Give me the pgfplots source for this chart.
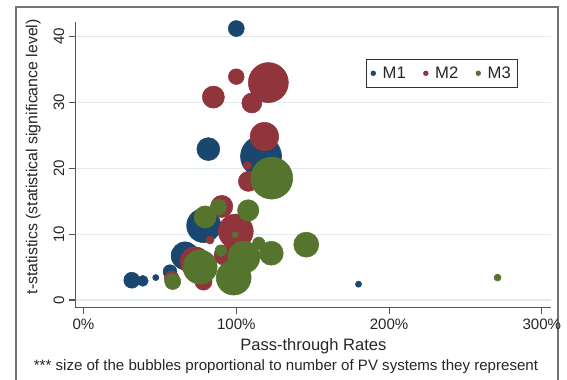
\documentclass[border=0pt]{standalone}
\usepackage{pgfplots}
\pgfplotsset{compat=1.18}
\usepackage{pgfplotstable}
\usepackage{fontspec}
\setmainfont{Liberation Sans}
\definecolor{m1}{RGB}{26,71,111}
\definecolor{m2}{RGB}{144,53,59}
\definecolor{m3}{RGB}{85,117,47}
\definecolor{gridc}{RGB}{226,236,239}
\definecolor{axc}{RGB}{85,85,85}
\pgfplotstableread{
x y r
100 41.2 6.0
81.7 22.9 8.6
116.2 21.8 15.4
78.7 11.3 12.8
66.5 6.7 10.5
56.6 4.3 5.2
31.6 3.0 6.0
38.8 2.9 4.1
47.3 3.4 2.3
180 2.4 2.3
}\mone
\pgfplotstableread{
x y r
100 33.9 5.9
121 33.0 15.0
85 30.8 8.3
110.2 29.9 7.5
118.4 24.8 10.7
107.3 20.4 3.0
107.9 18.0 7.5
90.5 14.2 8.3
99.7 10.4 13.1
82.8 9.1 3.0
73 5.8 11.2
92 6.8 7.5
78.5 2.8 6.5
57.7 3.3 5.5
}\mtwo
\pgfplotstableread{
x y r
123.2 18.5 15.75
88.3 14.1 6.0
79.6 12.6 8.3
107.8 13.6 8.0
99.2 9.9 2.3
89.9 7.5 4.3
114.7 8.6 4.7
122.9 7.1 9.0
145.8 8.4 9.4
105.0 6.5 12.0
98.3 3.4 13.1
76.3 5.0 12.8
58.4 2.8 6.0
271 3.4 2.6
}\mthree
\begin{document}
\begin{tikzpicture}
\path[use as bounding box] (-56.775pt,-53.475pt) rectangle (368.475pt,230.775pt);
\draw[color=black!55, line width=1pt] (-44.775pt,-60pt) -- (-44.775pt,225.525pt) -- (361.725pt,225.525pt) -- (361.725pt,-60pt);
\begin{axis}[
  at={(0,0)}, anchor=south west, scale only axis,
  width=356.5pt, height=214.3pt,
  xmin=-5.1, xmax=306, ymin=-1.17, ymax=42.2,
  axis x line*=bottom, axis y line*=left,
  axis line style={draw=axc, line width=0.8pt},
  xtick={0,100,200,300}, xticklabels={0\%,100\%,200\%,300\%},
  ytick={0,10,20,30,40}, yticklabels={0,10,20,30,40},
  tick align=outside, major tick length=5pt,
  tick style={draw=axc, line width=0.8pt},
  ymajorgrids, grid style={draw=gridc, line width=0.8pt},
  ticklabel style={font=\fontsize{11.3}{13}\selectfont, text=black!85},
  yticklabel style={rotate=90, anchor=south},
  every axis y label/.style={at={(axis description cs:-0.0893,0.528)}, rotate=90, anchor=center, font=\fontsize{11.9}{14}\selectfont, text=black!85},
  every axis x label/.style={at={(axis description cs:0.5,-0.1365)}, anchor=center, font=\fontsize{12.4}{14}\selectfont, text=black!85},
  xlabel={Pass-through Rates},
  ylabel={t-statistics (statistical significance level)},
  legend style={at={(axis description cs:0.7707,0.8204)}, anchor=center, draw=black!80, line width=0.8pt,
    font=\fontsize{12.5}{14}\selectfont, text=black!85, inner ysep=3.5pt, inner xsep=3pt},
  legend columns=3,
  legend cell align=left,
  /tikz/every even column/.append style={column sep=11pt},
]
\addplot[color=m1, scatter, only marks, mark=*, mark options={draw=none},
  scatter/use mapped color={draw=none, fill=m1},
  visualization depends on={\thisrow{r}\as\rad},
  scatter/@pre marker code/.append style={/tikz/mark size=\rad},
  legend image code/.code={\fill[m1] (0,0) circle (1.6pt); \path[draw=none] (-2pt,0) -- (5pt,0);}]
  table[x=x,y=y] {\mone};
\addlegendentry{M1}
\addplot[color=m2, scatter, only marks, mark=*, mark options={draw=none},
  scatter/use mapped color={draw=none, fill=m2},
  visualization depends on={\thisrow{r}\as\rad},
  scatter/@pre marker code/.append style={/tikz/mark size=\rad},
  legend image code/.code={\fill[m2] (0,0) circle (1.6pt); \path[draw=none] (-2pt,0) -- (5pt,0);}]
  table[x=x,y=y] {\mtwo};
\addlegendentry{M2}
\addplot[color=m3, scatter, only marks, mark=*, mark options={draw=none},
  scatter/use mapped color={draw=none, fill=m3},
  visualization depends on={\thisrow{r}\as\rad},
  scatter/@pre marker code/.append style={/tikz/mark size=\rad},
  legend image code/.code={\fill[m3] (0,0) circle (1.6pt); \path[draw=none] (-2pt,0) -- (5pt,0);}]
  table[x=x,y=y] {\mthree};
\addlegendentry{M3}
\end{axis}
\node[font=\fontsize{11.3}{13}\selectfont, text=black!85] at (157.7pt,-44.25pt) {*** size of the bubbles proportional to number of PV systems they represent};
\end{tikzpicture}
\end{document}
